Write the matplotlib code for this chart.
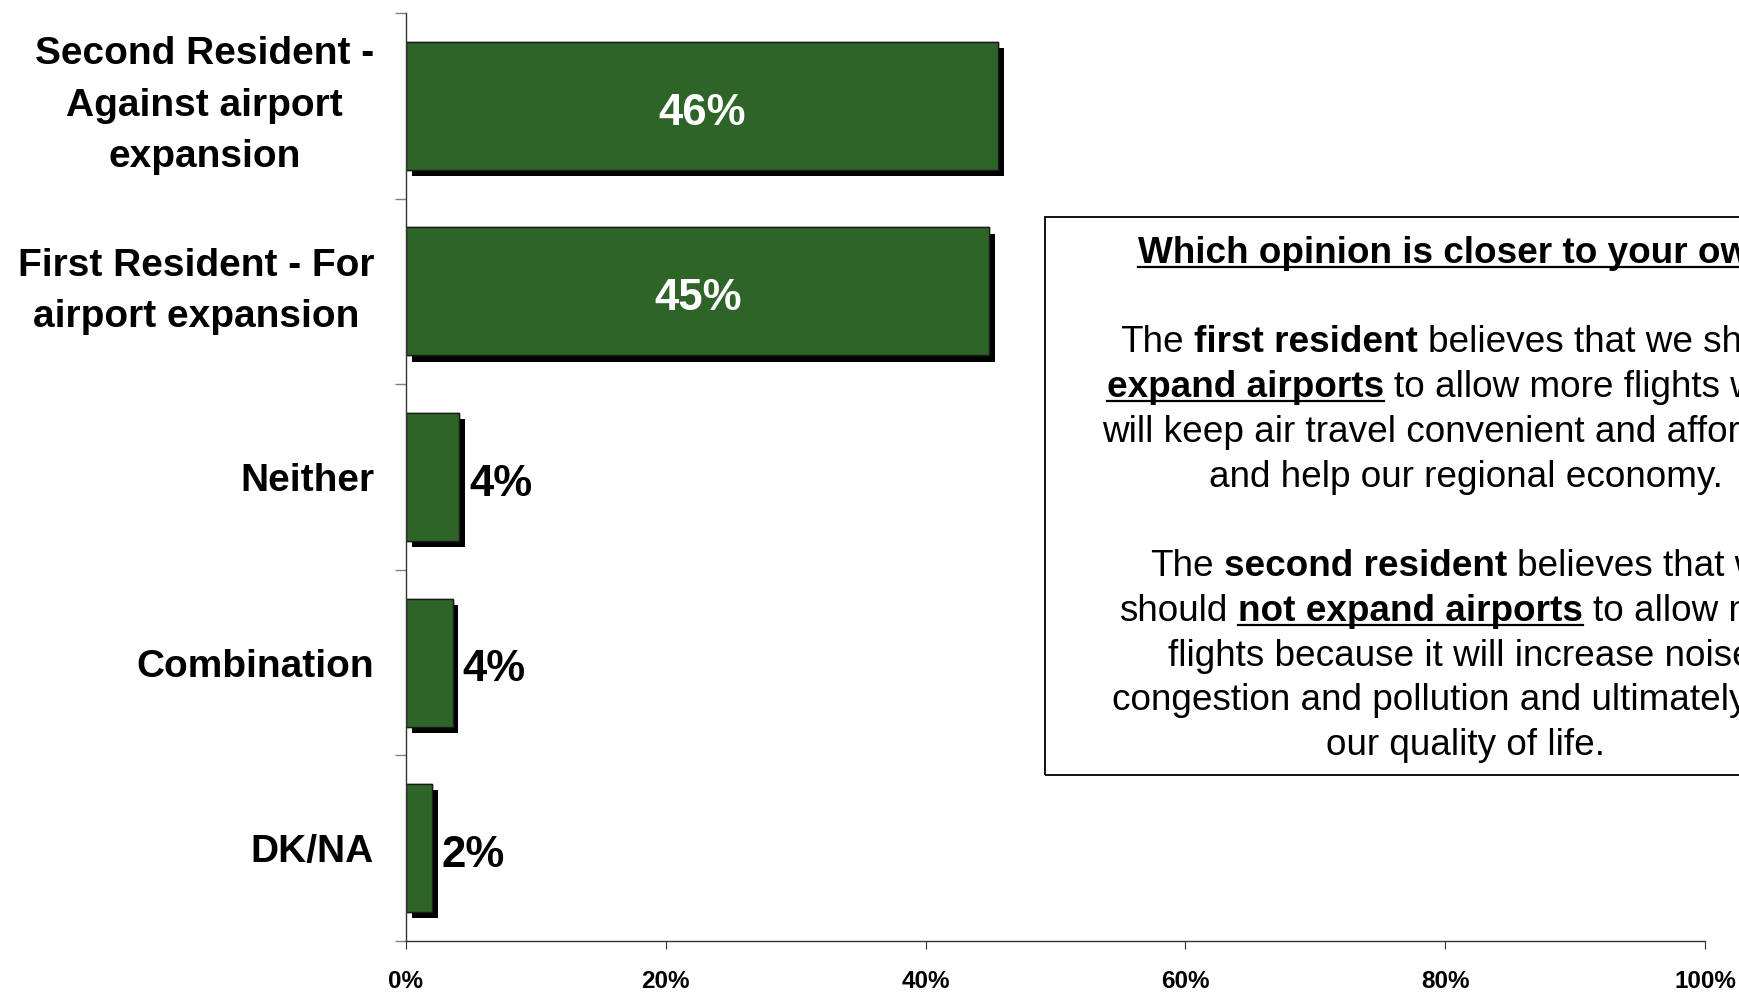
import matplotlib
matplotlib.use("Agg")
import matplotlib.pyplot as plt
import matplotlib.patheffects as pe
import matplotlib.ticker as ticker
from matplotlib.patches import Rectangle
from matplotlib.lines import Line2D

plt.rcParams['font.family'] = ['Liberation Sans', 'DejaVu Sans']

# данные опроса
categories = ["Second Resident -\nAgainst airport\nexpansion",
              "First Resident - For\nairport expansion",
              "Neither",
              "Combination",
              "DK/NA"]
values = [45.6, 44.9, 4.1, 3.6, 2.0]
xticks = [0, 20, 40, 60, 80, 100]

bar_color = '#2e6427'

W, H = 1740, 993
fig = plt.figure(figsize=(W / 100, H / 100), dpi=100)

def fx(px):
    return px / W

def fy(py):
    return 1 - py / H

ax = fig.add_axes([fx(406), fy(941), fx(1705) - fx(406), fy(13) - fy(941)])

ypos = list(range(len(categories)))
bars = ax.barh(ypos, values, height=0.69, color=bar_color, edgecolor='#1a1a1a', linewidth=1.0)
for b in bars:
    b.set_path_effects([pe.withSimplePatchShadow(offset=(4, -4.5), shadow_rgbFace='black', alpha=1.0),
                        pe.Normal()])

# подписи значений
for y, v in zip(ypos, values):
    txt = f"{v:.0f}%"
    if v >= 10:
        ax.annotate(txt, xy=(v / 2, y), xytext=(0, -2), textcoords='offset points',
                    ha='center', va='center_baseline', color='white',
                    fontsize=31.5, fontweight='bold')
    else:
        ax.annotate(txt, xy=(v, y), xytext=(7, -2), textcoords='offset points',
                    ha='left', va='center_baseline', color='black', fontsize=31.5, fontweight='bold')

ax.set_xlim(0, 100)
ax.set_ylim(len(categories) - 0.5, -0.5)

ax.set_xticks(xticks)
ax.xaxis.set_major_formatter(ticker.FuncFormatter(lambda v, p: f"{v:.0f}%"))
ax.tick_params(axis='x', direction='out', length=6, width=0.8, color='#333333', pad=15,
               labelsize=17.5)
for lab in ax.get_xticklabels():
    lab.set_fontweight('bold')

ax.set_yticks(ypos)
ax.set_yticklabels(categories, fontsize=28, fontweight='bold', multialignment='center',
                   linespacing=1.55)
for lab in ax.get_yticklabels():
    if "\n" in lab.get_text():
        lab.set_va('center')
ax.tick_params(axis='y', which='major', length=0, pad=23)
ax.set_yticks([y - 0.5 for y in ypos] + [len(categories) - 0.5], minor=True)
ax.tick_params(axis='y', which='minor', direction='out', length=8, width=1.0, color='#808080')

for s in ['top', 'right']:
    ax.spines[s].set_visible(False)
for s in ['left', 'bottom']:
    ax.spines[s].set_color('#333333')
    ax.spines[s].set_linewidth(1.0)

# рамка с текстом вопроса
box_left, box_top, box_bottom = 1045, 217, 775
fig.add_artist(Rectangle((fx(box_left), fy(box_bottom)), fx(900), fy(box_top) - fy(box_bottom),
                         transform=fig.transFigure, fill=False, edgecolor='black', linewidth=1.3))

# строки: (текст, жирный, подчёркнутый)
lines = [
    [("Which opinion is closer to your own?", True, True)],
    [],
    [("The", False, False), ("first resident", True, False), ("believes that we should", False, False)],
    [("expand airports", True, True), ("to allow more flights which", False, False)],
    [("will keep air travel convenient and affordable", False, False)],
    [("and help our regional economy.", False, False)],
    [],
    [("The", False, False), ("second resident", True, False), ("believes that we", False, False)],
    [("should", False, False), ("not expand airports", True, True), ("to allow more", False, False)],
    [("flights because it will increase noise,", False, False)],
    [("congestion and pollution and ultimately hurt", False, False)],
    [("our quality of life.", False, False)],
]

fs_box = 26.6
cx = 1466
base0 = 263
step = 44.75

renderer = fig.canvas.get_renderer()

def width_of(s, bold):
    t = fig.text(0, 0, s, fontsize=fs_box, fontweight='bold' if bold else 'normal')
    w = t.get_window_extent(renderer).width
    t.remove()
    return w

space_w = {b: width_of("x x", b) - width_of("xx", b) for b in (False, True)}

for k, segs in enumerate(lines):
    if not segs:
        continue
    widths = [width_of(s, b) for s, b, u in segs]
    total = sum(widths) + sum(space_w[segs[i][1]] for i in range(len(segs) - 1))
    x = cx - total / 2
    yb = base0 + step * k
    for i, ((s, b, u), w) in enumerate(zip(segs, widths)):
        fig.text(fx(x), fy(yb), s, fontsize=fs_box, fontweight='bold' if b else 'normal',
                 ha='left', va='baseline', color='black')
        if u:
            fig.add_artist(Line2D([fx(x), fx(x + w)], [fy(yb + 4), fy(yb + 4)],
                                  transform=fig.transFigure, color='black', linewidth=1.6))
        x += w
        if i < len(segs) - 1:
            x += space_w[b]

fig.savefig("out.png", dpi=100, facecolor='white')
